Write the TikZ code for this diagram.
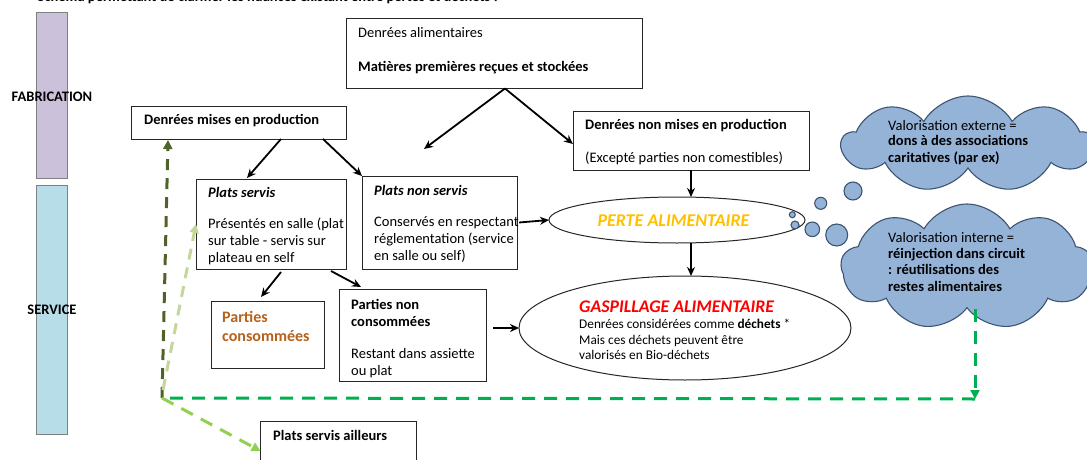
\documentclass[tikz,border=0pt]{standalone}
\usepackage{fontspec}
\setmainfont{Carlito}
\usetikzlibrary{arrows.meta,shapes.geometric,shapes.symbols,calc}
\definecolor{fabc}{HTML}{CCC1DA}
\definecolor{serc}{HTML}{B7DEE8}
\definecolor{olivec}{HTML}{4F6228}
\definecolor{paleg}{HTML}{C3D69B}
\definecolor{midg}{HTML}{92D050}
\definecolor{brightg}{HTML}{00B050}
\definecolor{cloudc}{HTML}{95B3D7}
\definecolor{cloudl}{HTML}{3D5473}
\definecolor{pertec}{HTML}{FFC000}
\definecolor{brownc}{HTML}{B4621C}
\definecolor{barline}{HTML}{7F7F7F}
\begin{document}
\begin{tikzpicture}[x=1pt,y=-1pt,
  box/.style={draw=black!85,line width=1pt,anchor=north west,inner sep=0pt,outer sep=0pt},
  bar/.style={draw=barline,line width=1pt,anchor=north west,inner sep=0pt,outer sep=0pt},
  ell/.style={draw=black!85,line width=1pt,ellipse,inner sep=0pt,outer sep=0pt},
  txt/.style={anchor=base west,inner sep=0pt,font=\fontsize{14.5}{17}\selectfont},
  txtb/.style={txt,font=\fontsize{14.5}{17}\selectfont\bfseries},
  txtbi/.style={txt,font=\fontsize{14.5}{17}\selectfont\bfseries\itshape},
  small/.style={anchor=base west,inner sep=0pt,font=\fontsize{13.3}{15}\selectfont},
  cloudn/.style={cloud,cloud puffs=9,cloud puff arc=120,aspect=2.4,fill=cloudc,draw=cloudl,line width=1.1pt,inner sep=0pt},
  bub/.style={fill=cloudc,draw=cloudl,line width=1.1pt},
  arr/.style={draw=black,line width=1.8pt,-{Stealth[length=9pt,width=8pt]}},
  olv/.style={draw=olivec,line width=3pt,dash pattern=on 11pt off 8pt,-{Triangle[length=9pt,width=9pt]}},
  pal/.style={draw=paleg,line width=3pt,dash pattern=on 11pt off 8pt,-{Triangle[length=9pt,width=9pt]}},
  mid/.style={draw=midg,line width=3pt,dash pattern=on 13pt off 9pt,-{Triangle[length=9pt,width=9pt]}},
  brt/.style={draw=brightg,line width=3pt,dash pattern=on 13pt off 9pt}]
\useasboundingbox (0,0) rectangle (1087,460);

% cut-off title
\node[txtb,anchor=base east] (title) at (498,2) {Schéma permettant de clarifier les nuances existant entre pertes et déchets :};

% side bars
\node[bar,fill=fabc,minimum width=30.6,minimum height=165] (fab) at (36.8,13) {};
\node[bar,fill=serc,minimum width=30.6,minimum height=249] (ser) at (36.8,185) {};
\node[txtb,anchor=base] (tfab) at (52,101) {FABRICATION};
\node[txtb,anchor=base] (tser) at (52,314.3) {SERVICE};

% boxes
\node[box,minimum width=296,minimum height=69] (da) at (346,19) {};
\node[box,minimum width=215.5,minimum height=33] (dmp) at (131,106) {};
\node[box,minimum width=236,minimum height=59] (dnmp) at (573,111) {};
\node[box,minimum width=150,minimum height=90] (ps) at (196,179) {};
\node[box,minimum width=155,minimum height=93] (pns) at (362,176) {};
\node[box,minimum width=112.5,minimum height=67] (pc) at (211.5,301) {};
\node[box,minimum width=147,minimum height=92] (pnc) at (339,289) {};
\node[box,minimum width=155.5,minimum height=60] (psa) at (260.6,421) {};

% ellipses
\node[ell,minimum width=256,minimum height=46] (perte) at (677,220) {};
\node[ell,minimum width=332,minimum height=104] (gasp) at (685,328) {};

% clouds
\node[cloudn,minimum width=252,minimum height=96] (cl1) at (968,144) {};
\node[cloudn,minimum width=252,minimum height=126] (cl2) at (967,267) {};
\draw[bub] (853,191) circle (9);
\draw[bub] (820.7,203.3) circle (6);
\draw[bub] (812.3,229.3) circle (7.3);
\draw[bub] (836.7,235) circle (11);
\draw[bub] (792.3,214.7) circle (3);
\draw[bub] (795,225) circle (4);

% texts
\node[txt] (tda1) at (358,38) {Denrées alimentaires};
\node[txtb] (tda2) at (358,71) {Matières premières reçues et stockées};
\node[txtb] (tdmp) at (144,124) {Denrées mises en production};
\node[txtb] (tdnmp1) at (585,129) {Denrées non mises en production};
\node[txt] (tdnmp2) at (585,162) {(Excepté parties non comestibles)};

\node[txtbi] (tps1) at (208,197.6) {Plats servis};
\node[txt] (tps2) at (208,228.6) {Présentés en salle (plat};
\node[txt] (tps3) at (208,245.6) {sur table - servis sur};
\node[txt] (tps4) at (208,262.6) {plateau en self};

\node[txtbi] (tpns1) at (374,195) {Plats non servis};
\node[txt] (tpns2) at (374,226.6) {Conservés en respectant};
\node[txt] (tpns3) at (374,243.6) {réglementation (service};
\node[txt] (tpns4) at (374,260.6) {en salle ou self)};

\node[txtb,font=\fontsize{16}{19}\selectfont\bfseries,text=brownc] (tpc1) at (222,322) {Parties};
\node[txtb,font=\fontsize{16}{19}\selectfont\bfseries,text=brownc] (tpc2) at (222,341) {consommées};

\node[txtb] (tpnc1) at (351,309) {Parties non};
\node[txtb] (tpnc2) at (351,326) {consommées};
\node[txt] (tpnc3) at (351,358.3) {Restant dans assiette};
\node[txt] (tpnc4) at (351,375) {ou plat};

\node[txtb] (tpsa) at (273,440) {Plats servis ailleurs};

\node[anchor=base,inner sep=0pt,font=\fontsize{18}{21}\selectfont\bfseries\itshape,text=pertec] (tperte) at (673.5,226) {PERTE ALIMENTAIRE};

\node[anchor=base west,inner sep=0pt,font=\fontsize{17.8}{21}\selectfont\bfseries\itshape,text=red] (tg1) at (579,312.5) {GASPILLAGE ALIMENTAIRE};
\node[small] (tg2) at (579,328.6) {Denrées considérées comme \textbf{déchets} *};
\node[small] (tg3) at (579,344.3) {Mais ces déchets peuvent être};
\node[small] (tg4) at (579,359) {valorisés en Bio-déchets};

\node[txt] (tc11) at (888,130) {Valorisation externe =};
\node[txtb] (tc12) at (888,145.5) {dons à des associations};
\node[txtb] (tc13) at (888,162) {caritatives (par ex)};

\node[txt] (tc21) at (888,242) {Valorisation interne =};
\node[txtb] (tc22) at (888,258) {réinjection dans circuit};
\node[txtb] (tc23) at (888,274.3) {: réutilisations des};
\node[txtb] (tc24) at (888,291) {restes alimentaires};

% black arrows
\coordinate (lfree) at (424,149);
\coordinate (pg) at ($(perte.south)+(14,0)$);
\draw[arr] ($(da.south west)+(159,0.5)$) -- (lfree);
\draw[arr] ($(da.south west)+(159,0.5)$) -- ($(dnmp.west)+(0,3.5)$);
\draw[arr] ($(dmp.south west)+(150,0)$) -- ($(ps.north west)+(51,-1)$);
\draw[arr] ($(dmp.south west)+(192,0)$) -- (pns.north west);
\draw[arr] (dnmp.south) -- (dnmp.south |- perte.north);
\draw[arr] (pg) -- (pg |- gasp.north);
\draw[arr] ($(pns.east)+(2,0)$) -- (perte.west);
\draw[arr] ($(ps.south west)+(85,3)$) -- ($(pc.north west)+(49.5,-4)$);
\draw[arr] ($(ps.south west)+(135,2)$) -- ($(pnc.north west)+(22,-2)$);
\draw[arr] ($(pnc.east |- gasp.west)+(7,0)$) -- (gasp.west);

% green dashed connectors
\coordinate (c0) at (162,398);
\coordinate (c1) at (975,399);
\draw[brt] (c1) -- (c0);
\draw[brt,-{Triangle[length=9pt,width=9pt]}] (c1 |- cl2.south) -- (c1);
\draw[olv] (c0) -- ($(dmp.south west)+(37,1)$);
\draw[pal] ($(c0)+(1,-8)$) -- (ps.west);
\draw[mid] (c0) -- (psa.west);
\end{tikzpicture}
\end{document}
